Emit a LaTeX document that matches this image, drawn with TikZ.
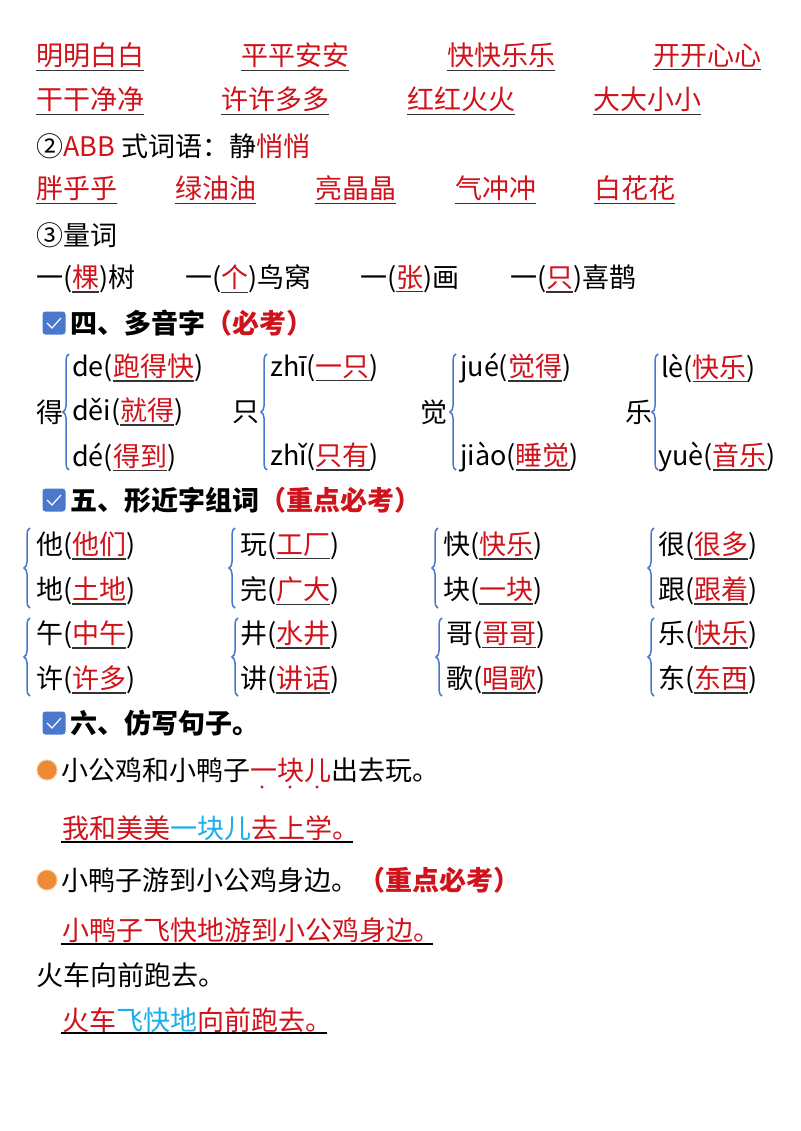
\documentclass[tikz,border=0pt]{standalone}
\usepackage{fontspec}
\setmainfont{Noto Sans CJK SC}
\usetikzlibrary{decorations.pathreplacing}
\definecolor{rd}{HTML}{D0121B}
\definecolor{bl}{HTML}{4A78CC}
\definecolor{cy}{HTML}{1AAEEA}
\definecolor{og}{HTML}{EE8A35}
\newcommand\rw[1]{\setbox0\hbox{\textcolor{rd}{#1}}\leavevmode\rlap{\textcolor{black!80}{\rule[-5pt]{\wd0}{1.3pt}}}\box0}
\begin{document}
\begin{tikzpicture}[x=1pt,y=-1pt,
  t/.style={anchor=west,inner sep=0pt,font=\fontsize{27}{30}\selectfont},
  h/.style={t,font=\fontsize{27}{30}\selectfont\bfseries},
  br/.style={draw=bl,line width=1.5pt,decorate,decoration={brace,amplitude=6pt}},
  cb/.style={fill=bl,rounded corners=3pt,minimum size=23pt,inner sep=0pt}]
\useasboundingbox[fill=white] (0,0) rectangle (800,1131);
\node[t] (a1) at (36,57) {\rw{明明白白}};
\node[t] (a2) at (241,57) {\rw{平平安安}};
\node[t] (a3) at (447,57) {\rw{快快乐乐}};
\node[t] (a4) at (653,57) {\rw{开开心心}};
\node[t] (b1) at (36,101) {\rw{干干净净}};
\node[t] (b2) at (221,101) {\rw{许许多多}};
\node[t] (b3) at (407,101) {\rw{红红火火}};
\node[t] (b4) at (593,101) {\rw{大大小小}};
\node[t] (c0) at (36,146) {②\textcolor{rd}{ABB} 式词语：静\textcolor{rd}{悄悄}};
\node[t] (d1) at (36,190) {\rw{胖乎乎}};
\node[t] (d2) at (175,190) {\rw{绿油油}};
\node[t] (d3) at (315,190) {\rw{亮晶晶}};
\node[t] (d4) at (455,190) {\rw{气冲冲}};
\node[t] (d5) at (594,190) {\rw{白花花}};
\node[t] (e0) at (36,235) {③量词};
\node[t] (f1) at (36,279) {一(\rw{棵})树};
\node[t] (f2) at (185,279) {一(\rw{个})鸟窝};
\node[t] (f3) at (360,279) {一(\rw{张})画};
\node[t] (f4) at (510,279) {一(\rw{只})喜鹊};
\node[cb] (k4) at (54,323) {};
\draw[white,line width=1.2pt] (47,323) -- (52,328) -- (61,318);
\node[h] (s4) at (70,323) {四、多音字\textcolor{rd}{（必考）}};
\node[t] (p1) at (36,412) {得};
\draw[br] (69,470) -- (69,354);
\node[t] (p1a) at (72,368) {de(\rw{跑得快})};
\node[t] (p1b) at (72,412) {děi(\rw{就得})};
\node[t] (p1c) at (72,457) {dé(\rw{得到})};
\node[t] (p2) at (232,412) {只};
\draw[br] (267,470) -- (267,354);
\node[t] (p2a) at (270,368) {zhī(\rw{一只})};
\node[t] (p2c) at (270,457) {zhǐ(\rw{只有})};
\node[t] (p3) at (420,412) {觉};
\draw[br] (456,470) -- (456,354);
\node[t] (p3a) at (460,368) {jué(\rw{觉得})};
\node[t] (p3c) at (460,457) {jiào(\rw{睡觉})};
\node[t] (p4) at (625,412) {乐};
\draw[br] (658,470) -- (658,354);
\node[t] (p4a) at (661,368) {lè(\rw{快乐})};
\node[t] (p4c) at (658,457) {yuè(\rw{音乐})};
\node[cb] (k5) at (54,500) {};
\draw[white,line width=1.2pt] (47,500) -- (52,505) -- (61,495);
\node[h] (s5) at (70,500) {五、形近字组词\textcolor{rd}{（重点必考）}};
\foreach \x/\bx/\A/\B/\C/\D [count=\i] in {36/30/他/他们/地/土地, 240/235/玩/工厂/完/广大, 443/438/快/快乐/块/一块, 658/654/很/很多/跟/跟着}{
  \draw[br] (\bx,608) -- (\bx,528);
  \node[t] (g\i a) at (\x,546) {\A(\rw{\B})};
  \node[t] (g\i b) at (\x,591) {\C(\rw{\D})};
}
\foreach \x/\bx/\A/\B/\C/\D [count=\i] in {36/30/午/中午/许/许多, 240/238/井/水井/讲/讲话, 446/442/哥/哥哥/歌/唱歌, 658/654/乐/快乐/东/东西}{
  \draw[br] (\bx,696) -- (\bx,618);
  \node[t] (m\i a) at (\x,635) {\A(\rw{\B})};
  \node[t] (m\i b) at (\x,680) {\C(\rw{\D})};
}
\node[cb] (k6) at (54,723) {};
\draw[white,line width=1.2pt] (47,723) -- (52,728) -- (61,718);
\node[h] (s6) at (70,723) {六、仿写句子。};
\node[circle,fill=og,draw=og!50,line width=1pt,minimum size=20pt,inner sep=0pt] (o1) at (47,770) {};
\node[t] (q1) at (61,770) {小公鸡和小鸭子\textcolor{rd}{一块儿}出去玩。};
\foreach \xx in {262,290,317} \fill[rd] (\xx,787) circle (1.6pt);
\node[t] (r1) at (62,828) {\textcolor{rd}{我和美美}\textcolor{cy}{一块儿}\textcolor{rd}{去上学。}};
\draw[line width=2pt] (61,842) -- (353,842);
\node[circle,fill=og,draw=og!50,line width=1pt,minimum size=20pt,inner sep=0pt] (o2) at (47,880) {};
\node[t] (q2) at (61,880) {小鸭子游到小公鸡身边。\textcolor{rd}{\bfseries（重点必考）}};
\node[t] (r2) at (62,930) {\textcolor{rd}{小鸭子飞快地游到小公鸡身边。}};
\draw[line width=2pt] (61,944) -- (433,944);
\node[t] (q3) at (36,975) {火车向前跑去。};
\node[t] (r3) at (62,1020) {\textcolor{rd}{火车}\textcolor{cy}{飞快地}\textcolor{rd}{向前跑去。}};
\draw[line width=2pt] (61,1033) -- (327,1033);
\end{tikzpicture}
\end{document}
